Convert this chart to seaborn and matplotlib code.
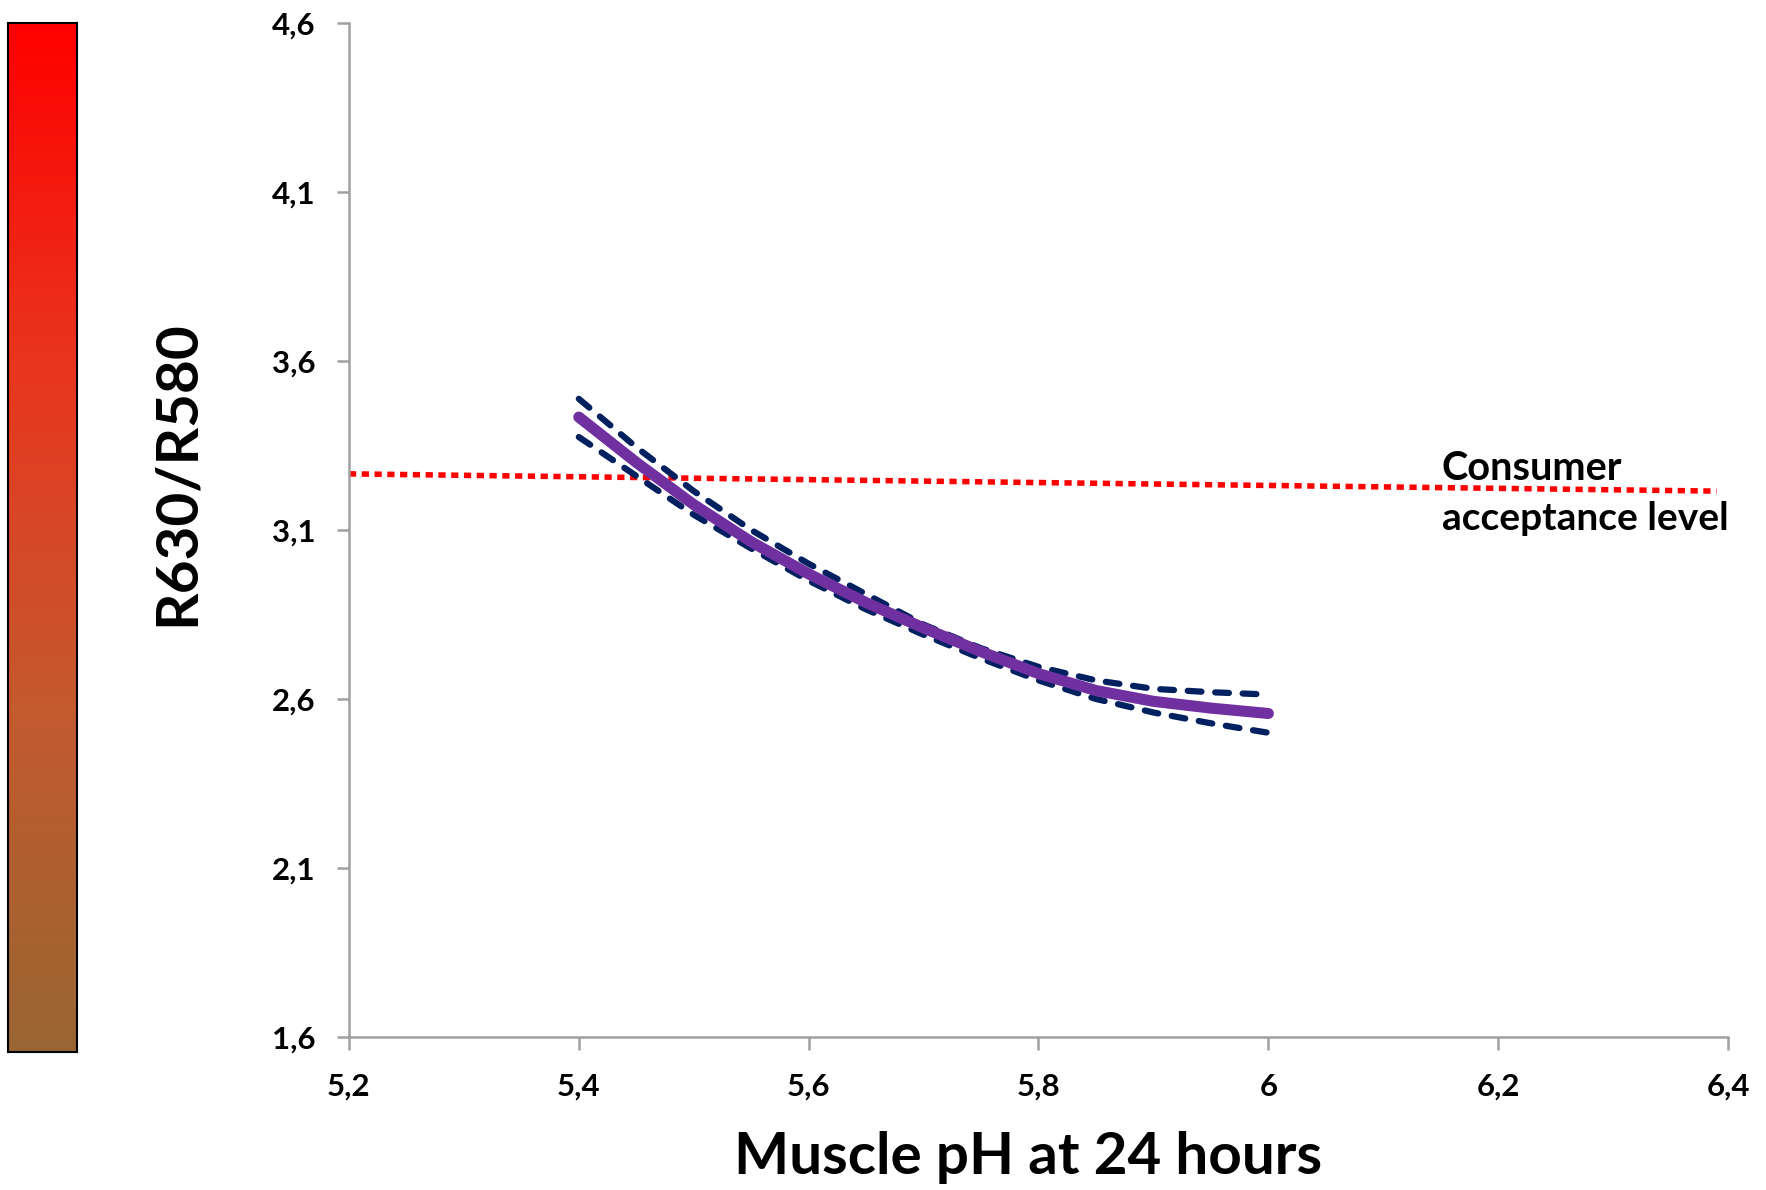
import numpy as np
import pandas as pd
import matplotlib
matplotlib.use('Agg')
import matplotlib.pyplot as plt
from matplotlib.colors import LinearSegmentedColormap
import seaborn as sns

# values
ph = [5.40, 5.45, 5.50, 5.55, 5.60, 5.65, 5.70, 5.75, 5.80, 5.85, 5.90, 5.95, 6.00]
ratio = [3.434, 3.30, 3.175, 3.065, 2.97, 2.885, 2.81, 2.74, 2.675, 2.625, 2.593, 2.573, 2.557]
ratio_upper = [3.488, 3.345, 3.215, 3.10, 3.0, 2.91, 2.82, 2.75, 2.695, 2.655, 2.63, 2.62, 2.613]
ratio_lower = [3.375, 3.26, 3.145, 3.045, 2.95, 2.865, 2.79, 2.72, 2.655, 2.60, 2.56, 2.528, 2.50]
accept_x = [5.2, 6.39]
accept_y = [3.266, 3.215]
x_ticks = [5.2, 5.4, 5.6, 5.8, 6.0, 6.2, 6.4]
x_ticklabels = ['5,2', '5,4', '5,6', '5,8', '6', '6,2', '6,4']
y_ticks = [1.6, 2.1, 2.6, 3.1, 3.6, 4.1, 4.6]
y_ticklabels = ['1,6', '2,1', '2,6', '3,1', '3,6', '4,1', '4,6']

df = pd.DataFrame({'ph': ph, 'ratio': ratio, 'upper': ratio_upper, 'lower': ratio_lower})

sns.set_style('ticks')
plt.rcParams['font.family'] = ['Lato', 'DejaVu Sans']
plt.rcParams['font.weight'] = 'bold'
plt.rcParams['text.color'] = 'black'
plt.rcParams['xtick.color'] = 'black'
plt.rcParams['ytick.color'] = 'black'

fig = plt.figure(figsize=(17.66, 11.90), dpi=100)
ax = fig.add_axes([0.1976, 0.1286, 0.7809, 0.8521])

# colour scale bar on the left
cax = fig.add_axes([0.0045, 0.116, 0.0391, 0.8647])
cmap = LinearSegmentedColormap.from_list('meat', ['#FF0000', '#E8361E', '#C45A2E', '#996633'])
grad = np.linspace(0, 1, 256).reshape(-1, 1)
cax.imshow(grad, cmap=cmap, aspect='auto')
cax.set_xticks([])
cax.set_yticks([])
for s in cax.spines.values():
    s.set_color('black')
    s.set_linewidth(1.5)

# acceptance level
sns.lineplot(x=accept_x, y=accept_y, ax=ax, color='#FF0000', lw=4,
             estimator=None, sort=False)
ax.lines[-1].set_dashes((1.3, 1.0))
ax.lines[-1].set_dash_capstyle('butt')

for col in ['upper', 'lower']:
    sns.lineplot(data=df, x='ph', y=col, ax=ax, color='#002060', lw=4.5,
                 estimator=None, sort=False)
    ax.lines[-1].set_dashes((2.2, 2.2))
    ax.lines[-1].set_dash_capstyle('round')

sns.lineplot(data=df, x='ph', y='ratio', ax=ax, color='#7030A0', lw=8,
             estimator=None, sort=False, solid_capstyle='round')
ax.lines[-1].set_solid_joinstyle('round')

ax.text(6.151, 3.248, 'Consumer', fontsize=28.5, fontweight='bold', va='baseline', ha='left')
ax.text(6.151, 3.100, 'acceptance level', fontsize=28, fontweight='bold', va='baseline', ha='left')

ax.set_xlim(5.2, 6.4)
ax.set_ylim(1.6, 4.6)
ax.set_xticks(x_ticks)
ax.set_xticklabels(x_ticklabels)
ax.set_yticks(y_ticks)
ax.set_yticklabels(y_ticklabels)
ax.tick_params(axis='both', direction='out', length=9, width=1.8, color='#A0A0A0',
               labelcolor='black', labelsize=22.5, bottom=True, left=True)
ax.tick_params(axis='x', pad=17)
ax.tick_params(axis='y', pad=15)
for lab in ax.get_xticklabels() + ax.get_yticklabels():
    lab.set_fontweight('bold')

sns.despine(ax=ax)
for s in ['left', 'bottom']:
    ax.spines[s].set_color('#A0A0A0')
    ax.spines[s].set_linewidth(1.8)

ax.set_xlabel('')
ax.set_ylabel('')
fig.text(1028 / 1766, 1 - 1158 / 1190, 'Muscle pH at 24 hours', fontsize=42, fontweight='bold',
         ha='center', va='center')
fig.text(177 / 1766, 1 - 473 / 1190, 'R630/R580', fontsize=42, fontweight='bold',
         ha='center', va='center', rotation=90)

fig.savefig('out.png', dpi=100)
